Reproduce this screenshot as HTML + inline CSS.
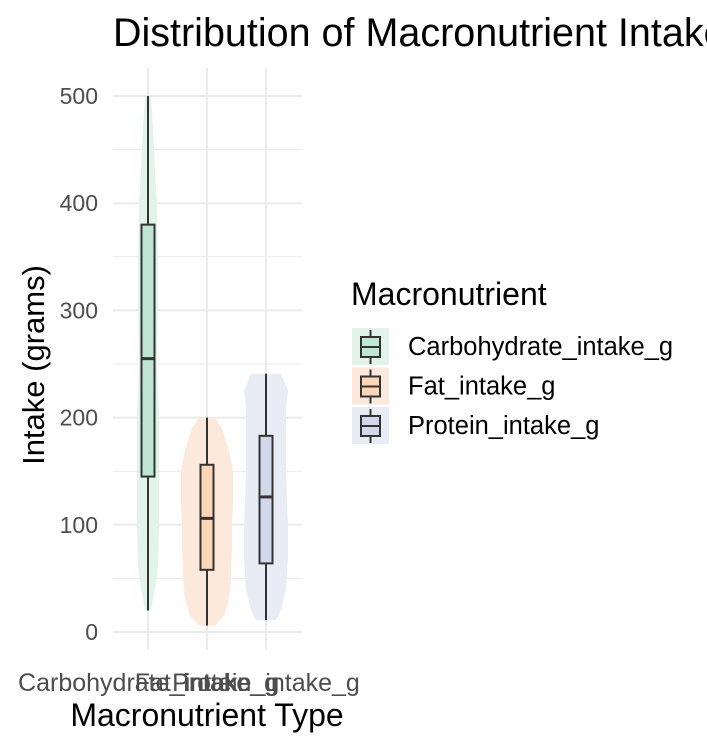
<!DOCTYPE html>
<html><head><meta charset="utf-8"><style>
body{margin:0;background:#fff}
svg text{font-family:"Liberation Sans",Arial,sans-serif}
</style></head><body>
<svg id="c" width="707" height="749" viewBox="0 0 707 749" xmlns="http://www.w3.org/2000/svg">
<text x="113" y="46" font-size="39.5" fill="#000">Distribution of Macronutrient Intake</text>
<g id="grid"></g>
<g id="marks"></g>
<g id="axes"></g>
<text transform="translate(44,365) rotate(-90)" text-anchor="middle" font-size="31" fill="#000">Intake (grams)</text>
<text x="207" y="726" text-anchor="middle" font-size="32" fill="#000">Macronutrient Type</text>
<g id="legend">
<text x="351" y="305" font-size="32" fill="#000">Macronutrient</text>
</g>
</svg>
<script>
const categories=["Carbohydrate_intake_g","Fat_intake_g","Protein_intake_g"];
const whiskerLow=[20,6,11];
const q1=[145,58,64];
const medians=[255,106,126];
const q3=[380,156,183];
const whiskerHigh=[500,200,241];
const violinCarbValues=[500,470,430,400,350,300,250,200,150,100,60,40,20];
const violinCarbWidths=[3,5,7,9,10,10,9,11,11,11,10,7,3];
const violinFatValues=[200,190,170,150,120,100,80,50,30,15,6];
const violinFatWidths=[8,15,22,26,26,25,25,24,22,17,8];
const violinProtValues=[241,225,210,180,150,120,100,70,40,20,11];
const violinProtWidths=[15,22,20,20,20,21,22,22,20,15,10];
const yTicks=[0,100,200,300,400,500];
const boxFill=["#bfe6d4","#fbd5b8","#d0d8ea"];
const violFill=["#e2f3ec","#fde9dc","#e8ecf5"];
const NS="http://www.w3.org/2000/svg";
const y=v=>632-v*1.072;
const x=i=>148+i*59;
function mk(tag,attrs,parent){const e=document.createElementNS(NS,tag);for(const k in attrs)e.setAttribute(k,attrs[k]);parent.appendChild(e);return e;}
const grid=document.getElementById('grid'),marks=document.getElementById('marks'),axes=document.getElementById('axes'),legend=document.getElementById('legend');
for(let v=50;v<=450;v+=100){const l=mk('line',{x1:113,x2:302,y1:y(v),y2:y(v),stroke:'#ebebeb','stroke-width':1},grid);

}
yTicks.forEach(v=>{const l=mk('line',{x1:113,x2:302,y1:y(v),y2:y(v),stroke:'#ebebeb','stroke-width':2},grid);


const t=mk('text',{x:98,y:y(v)+8,'text-anchor':'end','font-size':23,fill:'#4d4d4d'},axes);t.textContent=v;

});
categories.forEach((c,i)=>{const l=mk('line',{x1:x(i),x2:x(i),y1:68,y2:650,stroke:'#ebebeb','stroke-width':2},grid);


const t=mk('text',{x:x(i),y:691,'text-anchor':'middle','font-size':25,fill:'#4d4d4d'},axes);t.textContent=c;

});
const vv=[violinCarbValues,violinFatValues,violinProtValues],vw=[violinCarbWidths,violinFatWidths,violinProtWidths];
categories.forEach((c,i)=>{
 const vals=vv[i],ws=vw[i];let d='';
 vals.forEach((v,j)=>{d+=(j?'L':'M')+(x(i)+ws[j])+','+y(v);});
 for(let j=vals.length-1;j>=0;j--)d+='L'+(x(i)-ws[j])+','+y(vals[j]);
 d+='Z';
 const p=mk('path',{d:d,fill:violFill[i]},marks);
 
 
 const w1=mk('line',{x1:x(i),x2:x(i),y1:y(whiskerHigh[i]),y2:y(q3[i]),stroke:'#333','stroke-width':2},marks);
 
 
 const w2=mk('line',{x1:x(i),x2:x(i),y1:y(q1[i]),y2:y(whiskerLow[i]),stroke:'#333','stroke-width':2},marks);
 
 
 const b=mk('rect',{x:x(i)-6.5,y:y(q3[i]),width:13,height:y(q1[i])-y(q3[i]),fill:boxFill[i],stroke:'#333','stroke-width':2},marks);
 
 
 const m=mk('line',{x1:x(i)-6.5,x2:x(i)+6.5,y1:y(medians[i]),y2:y(medians[i]),stroke:'#333','stroke-width':3},marks);
 
 
 const cy=347+i*39.5;
 const g=mk('g',{},legend);
 
 
 mk('rect',{x:352,y:cy-19,width:37,height:37,fill:violFill[i]},g);
 mk('line',{x1:370.5,x2:370.5,y1:cy-17,y2:cy+17,stroke:'#333','stroke-width':2},g);
 mk('rect',{x:361,y:cy-10,width:19,height:20,fill:boxFill[i],stroke:'#333','stroke-width':2},g);
 mk('line',{x1:361,x2:380,y1:cy,y2:cy,stroke:'#333','stroke-width':2},g);
 const t=mk('text',{x:408,y:cy+8,'font-size':25.5,fill:'#000'},g);t.textContent=c;
});
</script>
</body></html>
